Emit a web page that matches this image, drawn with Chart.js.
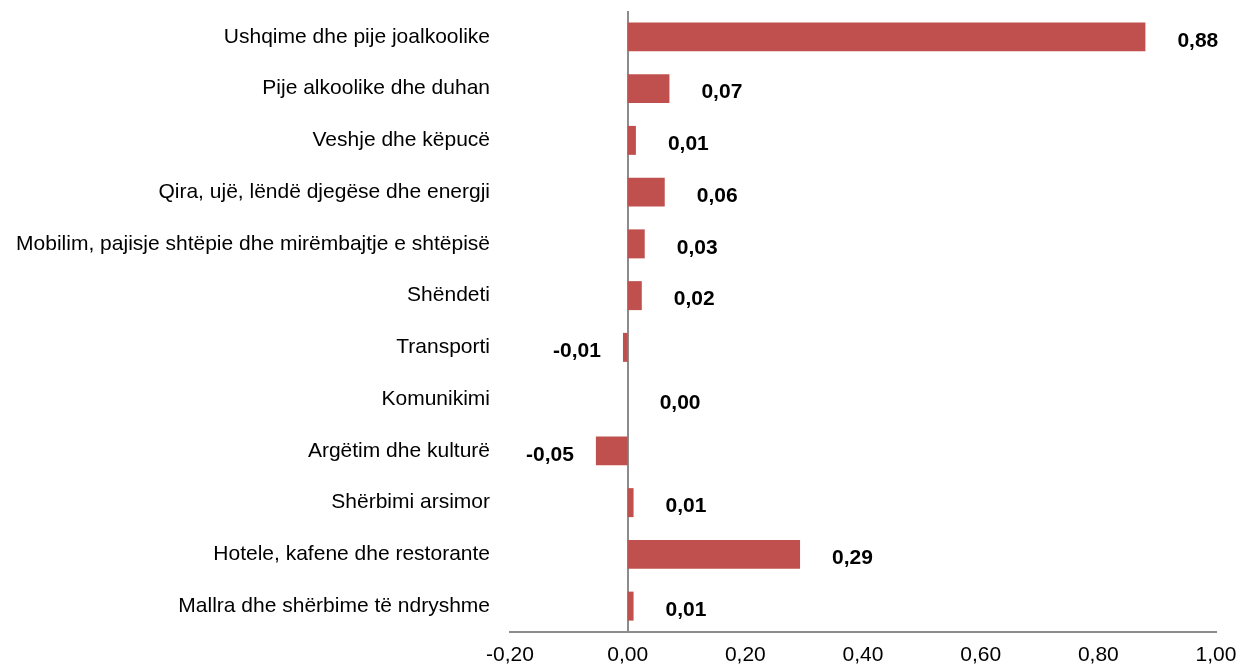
<!DOCTYPE html>
<html>
<head>
<meta charset="utf-8">
<script src="https://cdn.jsdelivr.net/npm/chart.js@4/dist/chart.umd.min.js"></script>
<style>
  html, body { margin: 0; padding: 0; background: #fff; }
  #wrap { width: 1239px; height: 666px; }
</style>
</head>
<body>
<div id="wrap"><canvas id="grafico" width="1239" height="666"></canvas></div>
<script>
// categorias y valores
const categorias = [
  'Ushqime dhe pije joalkoolike',
  'Pije alkoolike dhe duhan',
  'Veshje dhe këpucë',
  'Qira, ujë, lëndë djegëse dhe energji',
  'Mobilim, pajisje shtëpie dhe mirëmbajtje e shtëpisë',
  'Shëndeti',
  'Transporti',
  'Komunikimi',
  'Argëtim dhe kulturë',
  'Shërbimi arsimor',
  'Hotele, kafene dhe restorante',
  'Mallra dhe shërbime të ndryshme'
];
const valores = [0.88, 0.071, 0.014, 0.063, 0.029, 0.024, -0.008, 0.0, -0.054, 0.01, 0.293, 0.01];
const etiquetas = ['0,88', '0,07', '0,01', '0,06', '0,03', '0,02', '-0,01', '0,00', '-0,05', '0,01', '0,29', '0,01'];
const ejeMin = -0.2;
const ejeMax = 1.0;
const ejePaso = 0.2;

const FUENTE = "'Liberation Sans', Arial, sans-serif";
const GRIS = '#8c8c8c';

// etiquetas de valor junto a cada barra
const pluginEtiquetas = {
  id: 'etiquetasValor',
  afterDatasetsDraw(chart) {
    const ctx = chart.ctx;
    const meta = chart.getDatasetMeta(0);
    const xCero = chart.scales.x.getPixelForValue(0);
    ctx.save();
    ctx.font = 'bold 21px ' + FUENTE;
    ctx.fillStyle = '#000';
    ctx.textBaseline = 'middle';
    meta.data.forEach((bar, i) => {
      const v = valores[i];
      const y = bar.y + 4;
      if (v < 0) {
        ctx.textAlign = 'right';
        ctx.fillText(etiquetas[i], bar.x - 22, y);
      } else {
        ctx.textAlign = 'left';
        ctx.fillText(etiquetas[i], Math.max(bar.x, xCero) + 32, y);
      }
    });
    ctx.restore();
  }
};

new Chart(document.getElementById('grafico').getContext('2d'), {
  type: 'bar',
  data: {
    labels: categorias,
    datasets: [{
      data: valores,
      backgroundColor: '#c0504d',
      borderWidth: 0,
      barPercentage: 0.56,
      categoryPercentage: 1.0
    }]
  },
  options: {
    indexAxis: 'y',
    responsive: false,
    animation: false,
    layout: { padding: { top: 11, right: 23, left: 0, bottom: 0 } },
    plugins: {
      legend: { display: false },
      tooltip: { enabled: false }
    },
    scales: {
      x: {
        min: ejeMin,
        max: ejeMax,
        afterFit: (s) => { s.height = 34; s.paddingLeft = 0; s.paddingRight = 0; },
        ticks: {
          stepSize: ejePaso,
          color: '#000',
          padding: 11,
          font: { family: FUENTE, size: 21 },
          callback: (v) => (Math.round(v * 100) / 100).toFixed(2).replace('.', ',')
        },
        grid: {
          drawTicks: false,
          lineWidth: 2,
          color: (c) => (c.tick && Math.abs(c.tick.value) < 1e-9) ? GRIS : 'rgba(0,0,0,0)'
        },
        border: { display: true, color: GRIS, width: 2 }
      },
      y: {
        afterFit: (s) => { s.width = 510; s.paddingTop = 0; s.paddingBottom = 0; },
        ticks: {
          color: '#000',
          padding: 20,
          font: { family: FUENTE, size: 21 }
        },
        grid: { display: false, drawTicks: false },
        border: { display: false }
      }
    }
  },
  plugins: [pluginEtiquetas]
});
</script>
</body>
</html>
